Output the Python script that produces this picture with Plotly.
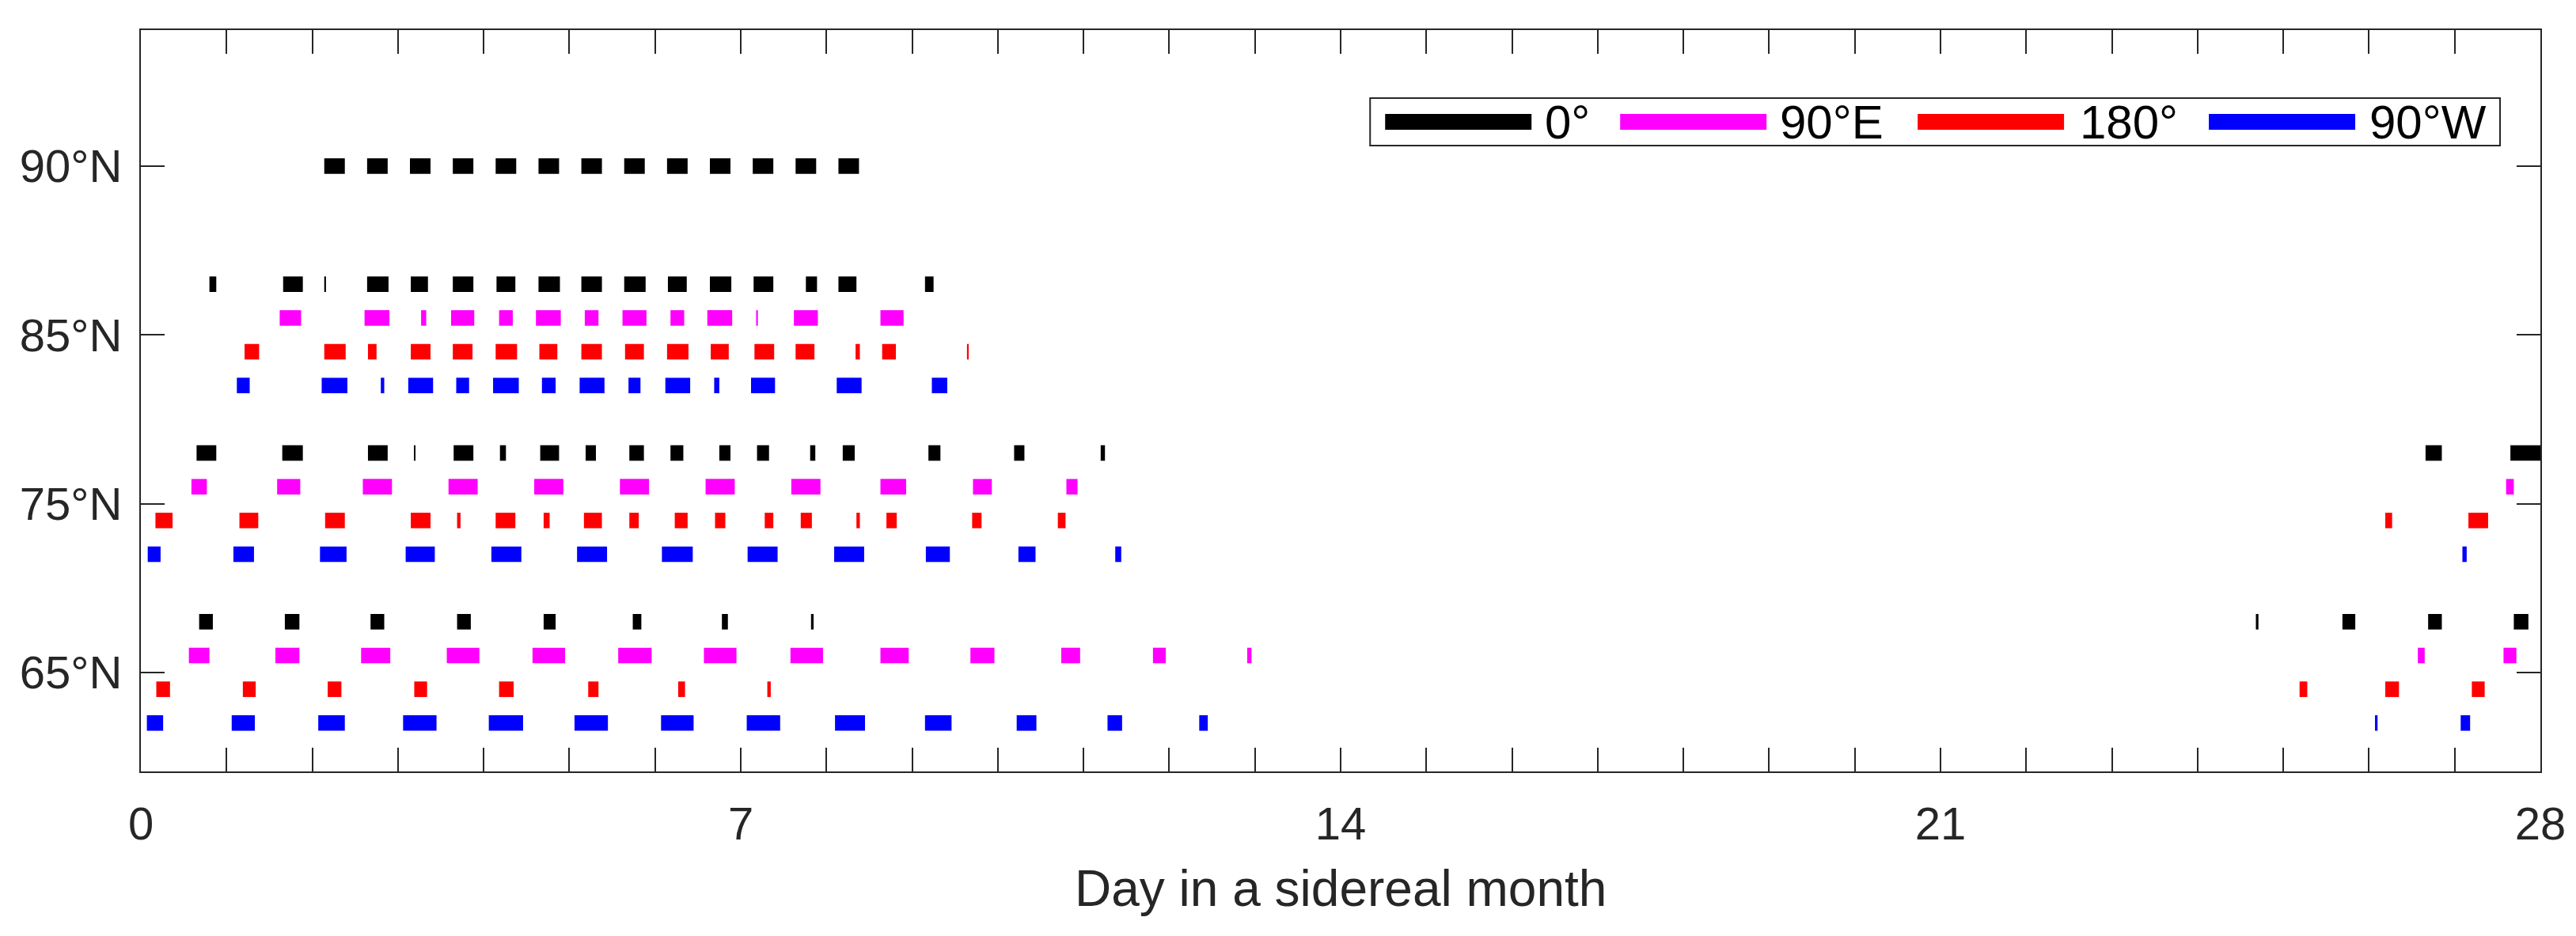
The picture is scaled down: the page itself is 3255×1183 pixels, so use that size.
import plotly.graph_objects as go

# ---------------- data (day intervals [start, end]) ----------------
lat_labels = ["65°N", "75°N", "85°N", "90°N"]
lon_labels = ["0°", "90°E", "180°", "90°W"]
x_tick_labels = ["0", "7", "14", "21", "28"]

r90_0 = [[2.14, 2.38], [2.64, 2.88], [3.14, 3.38], [3.64, 3.88], [4.14, 4.38],
         [4.64, 4.88], [5.14, 5.38], [5.64, 5.88], [6.14, 6.38], [6.64, 6.88],
         [7.14, 7.38], [7.64, 7.88], [8.14, 8.38]]

r85_0 = [[0.80, 0.88], [1.66, 1.89], [2.14, 2.16], [2.64, 2.89], [3.15, 3.35],
         [3.64, 3.88], [4.15, 4.37], [4.64, 4.89], [5.14, 5.38], [5.64, 5.89],
         [6.15, 6.37], [6.64, 6.89], [7.15, 7.38], [7.76, 7.89], [8.14, 8.35],
         [9.15, 9.25]]
r85_90e = [[1.62, 1.87], [2.61, 2.90], [3.27, 3.33], [3.62, 3.89], [4.18, 4.34],
           [4.61, 4.90], [5.18, 5.34], [5.62, 5.90], [6.18, 6.34], [6.61, 6.90],
           [7.18, 7.20], [7.62, 7.90], [8.63, 8.90]]
r85_180 = [[1.21, 1.38], [2.14, 2.39], [2.65, 2.75], [3.15, 3.38], [3.64, 3.87],
           [4.14, 4.39], [4.65, 4.86], [5.14, 5.38], [5.65, 5.87], [6.14, 6.39],
           [6.65, 6.86], [7.16, 7.39], [7.64, 7.86], [8.34, 8.39], [8.65, 8.81],
           [9.64, 9.66]]
r85_90w = [[1.12, 1.27], [2.11, 2.41], [2.80, 2.84], [3.12, 3.41], [3.68, 3.83],
           [4.11, 4.41], [4.68, 4.84], [5.12, 5.41], [5.69, 5.83], [6.12, 6.41],
           [6.69, 6.75], [7.12, 7.40], [8.12, 8.41], [9.23, 9.41]]

r75_0 = [[0.65, 0.88], [1.65, 1.89], [2.65, 2.88], [3.19, 3.20], [3.65, 3.88],
         [4.19, 4.26], [4.66, 4.88], [5.19, 5.31], [5.70, 5.87], [6.18, 6.33],
         [6.75, 6.88], [7.19, 7.33], [7.81, 7.87], [8.19, 8.33], [9.19, 9.33],
         [10.19, 10.31], [11.20, 11.25], [26.66, 26.85], [27.65, 28.0]]
r75_90e = [[0.59, 0.77], [1.59, 1.86], [2.59, 2.93], [3.59, 3.93], [4.59, 4.93],
           [5.59, 5.93], [6.59, 6.93], [7.59, 7.93], [8.63, 8.93], [9.71, 9.93],
           [10.80, 10.93], [27.60, 27.69]]
r75_180 = [[0.17, 0.37], [1.15, 1.37], [2.15, 2.38], [3.15, 3.38], [3.69, 3.73],
           [4.14, 4.37], [4.70, 4.77], [5.17, 5.38], [5.70, 5.81], [6.23, 6.38],
           [6.70, 6.82], [7.28, 7.38], [7.70, 7.83], [8.35, 8.39], [8.70, 8.82],
           [9.70, 9.81], [10.70, 10.79], [26.19, 26.27], [27.16, 27.39]]
r75_90w = [[0.08, 0.23], [1.08, 1.32], [2.09, 2.40], [3.09, 3.43], [4.09, 4.44],
           [5.09, 5.44], [6.08, 6.44], [7.08, 7.43], [8.09, 8.44], [9.16, 9.44],
           [10.24, 10.44], [11.37, 11.44], [27.09, 27.14]]

r65_0 = [[0.68, 0.84], [1.68, 1.85], [2.68, 2.84], [3.69, 3.85], [4.70, 4.84],
         [5.74, 5.84], [6.78, 6.85], [7.82, 7.85], [24.68, 24.71], [25.69, 25.84],
         [26.69, 26.85], [27.69, 27.86]]
r65_90e = [[0.56, 0.80], [1.57, 1.85], [2.57, 2.91], [3.57, 3.95], [4.57, 4.95],
           [5.57, 5.96], [6.57, 6.95], [7.58, 7.96], [8.63, 8.96], [9.68, 9.96],
           [10.74, 10.96], [11.81, 11.96], [12.91, 12.96], [26.57, 26.65],
           [27.57, 27.72]]
r65_180 = [[0.18, 0.34], [1.19, 1.34], [2.18, 2.34], [3.19, 3.34], [4.18, 4.35],
           [5.22, 5.34], [6.27, 6.35], [7.31, 7.35], [25.19, 25.28], [26.19, 26.35],
           [27.20, 27.35]]
r65_90w = [[0.07, 0.26], [1.06, 1.33], [2.07, 2.38], [3.06, 3.45], [4.06, 4.46],
           [5.06, 5.45], [6.07, 6.45], [7.07, 7.46], [8.10, 8.45], [9.15, 9.46],
           [10.22, 10.45], [11.28, 11.45], [12.35, 12.45], [26.07, 26.10],
           [27.07, 27.18]]

# ---------------- styling ----------------
colors = {"0°": "#000000", "90°E": "#FF00FF", "180°": "#FF0000", "90°W": "#0000FF"}
group_pos = {"65°N": 0, "75°N": 1, "85°N": 2, "90°N": 3}
row_offset = {"0°": 0.3, "90°E": 0.1, "180°": -0.1, "90°W": -0.3}

rows = [
    ("90°N", "0°", r90_0, 0.0),
    ("85°N", "0°", r85_0, None), ("85°N", "90°E", r85_90e, None),
    ("85°N", "180°", r85_180, None), ("85°N", "90°W", r85_90w, None),
    ("75°N", "0°", r75_0, None), ("75°N", "90°E", r75_90e, None),
    ("75°N", "180°", r75_180, None), ("75°N", "90°W", r75_90w, None),
    ("65°N", "0°", r65_0, None), ("65°N", "90°E", r65_90e, None),
    ("65°N", "180°", r65_180, None), ("65°N", "90°W", r65_90w, None),
]

W, H = 3255, 1183
L, R, T, B = 177.5, 3210.0, 38.0, 975.0
AXC = "#262626"
FONT = "Liberation Sans, Arial, sans-serif"

fig = go.Figure()
for lat, lon, iv, off in rows:
    o = row_offset[lon] if off is None else off
    y = group_pos[lat] + o
    fig.add_trace(go.Bar(
        orientation="h",
        base=[s for s, e in iv],
        x=[e - s for s, e in iv],
        y=[y] * len(iv),
        width=0.092,
        marker=dict(color=colors[lon], line=dict(width=0)),
        showlegend=False,
        hoverinfo="skip",
    ))

xt_vals = list(range(0, 29))
xt_text = [x_tick_labels[int(v / 7)] if v % 7 == 0 else "" for v in xt_vals]

fig.update_layout(
    width=W, height=H,
    margin=dict(l=L, r=W - R, t=T, b=H - B, pad=0),
    paper_bgcolor="white", plot_bgcolor="white",
    barmode="overlay",
    showlegend=False,
    font=dict(family=FONT, color=AXC),
    xaxis=dict(
        range=[0, 28], tickmode="array", tickvals=xt_vals, ticktext=xt_text,
        ticks="inside", ticklen=30, tickwidth=2, tickcolor=AXC,
        showline=True, linecolor=AXC, linewidth=2, mirror="ticks",
        showgrid=False, zeroline=False,
        tickfont=dict(size=58, color=AXC), ticklabelstandoff=14,
    ),
    yaxis=dict(
        range=[-0.587, 3.806], tickmode="array", tickvals=[0, 1, 2, 3],
        ticktext=lat_labels,
        ticks="inside", ticklen=30, tickwidth=2, tickcolor=AXC,
        showline=True, linecolor=AXC, linewidth=2, mirror="ticks",
        showgrid=False, zeroline=False,
        tickfont=dict(size=58, color=AXC), ticklabelstandoff=10,
    ),
)

# axis title
fig.add_annotation(text="Day in a sidereal month", xref="paper", yref="paper",
                   x=0.5, y=(B - 1123) / (B - T), xanchor="center", yanchor="middle",
                   showarrow=False, font=dict(size=64, color=AXC, family=FONT))

# manual legend (positions in pixels -> paper)
def px(v):
    return (v - L) / (R - L)

def py(v):
    return (B - v) / (B - T)

leg_top, leg_bot = 124, 184
fig.add_shape(type="rect", xref="paper", yref="paper",
              x0=px(1731), x1=px(3159), y0=py(leg_bot), y1=py(leg_top),
              line=dict(color=AXC, width=2), fillcolor="white", layer="above")
cy = (leg_top + leg_bot) / 2
sw_x = [1750, 2047, 2423, 2791]
tx_x = [1950, 2247, 2626, 2992]
for i, lon in enumerate(lon_labels):
    fig.add_shape(type="line", xref="paper", yref="paper",
                  x0=px(sw_x[i]), x1=px(sw_x[i] + 185), y0=py(cy), y1=py(cy),
                  line=dict(color=colors[lon], width=20), layer="above")
    fig.add_annotation(text=lon, xref="paper", yref="paper",
                       x=px(tx_x[i]), y=py(cy), xanchor="left", yanchor="middle",
                       showarrow=False, font=dict(size=60, color="#000000", family=FONT))

fig.write_html("out.html")
